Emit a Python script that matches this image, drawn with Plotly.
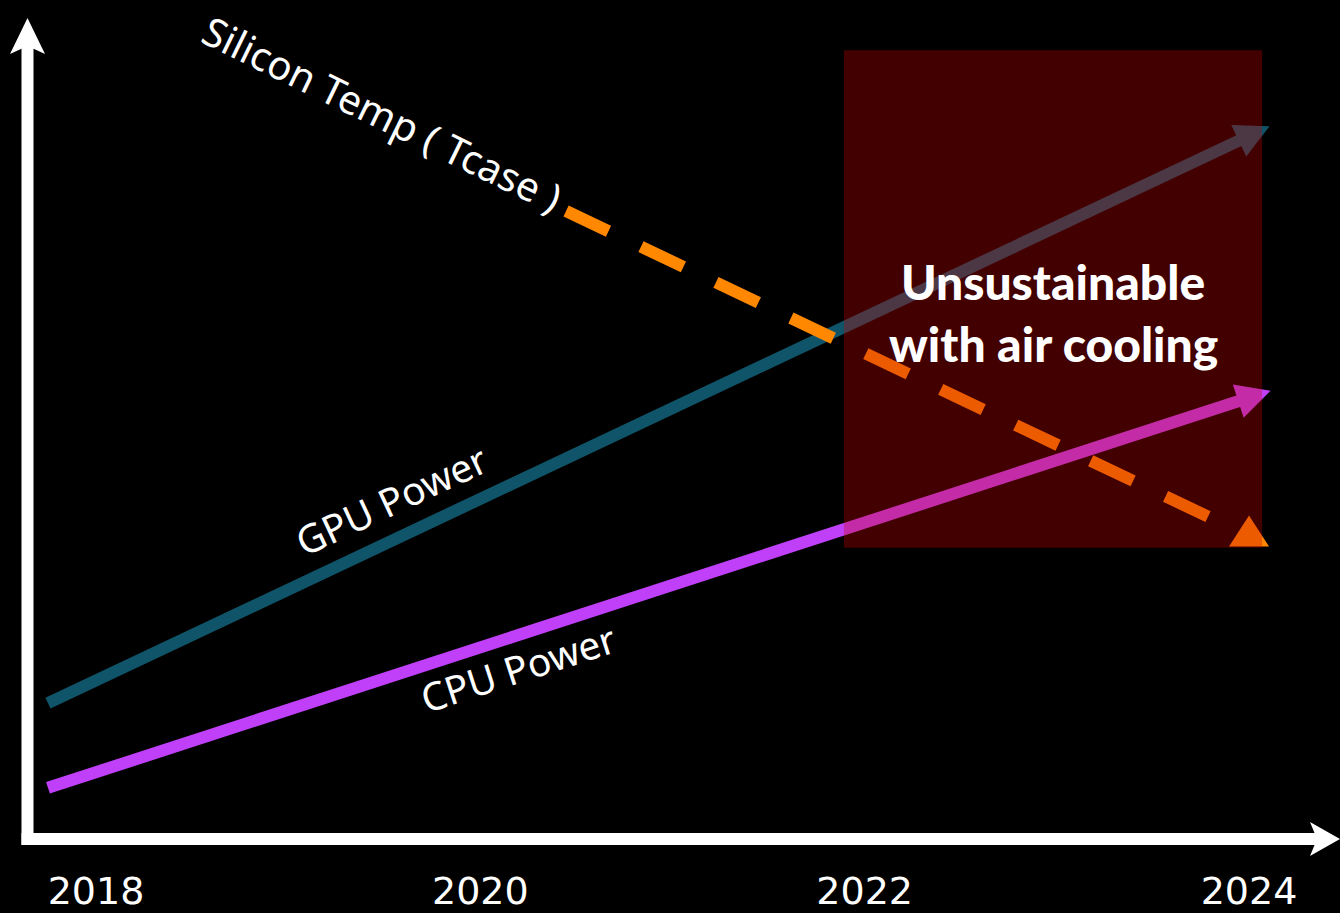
import plotly.graph_objects as go

# ---------------- data ----------------
years_label = [2018, 2020, 2022, 2024]
tick_text = ["2018", "2020", "2022", "2024"]

gpu_years = [2017.75, 2024.0]
gpu_power = [16.2, 83.8]

cpu_years = [2017.75, 2024.0]
cpu_power = [6.1, 52.6]

temp_years = [2020.446, 2024.0]
temp_level = [74.85, 36.1]

region_years = [2021.892, 2024.068]
region_level = [34.7, 94.0]

# ---------------- styling / geometry ----------------
W, H = 1340, 913
PLOT_H = 839
PXY = 192.17                       # px per year
X0 = 2018 - 96 / PXY
X1 = X0 + W / PXY
PYV = PLOT_H / 100.0               # px per unit

TEAL = "#0F5468"
PURPLE = "#C040FA"
ORANGE = "#FF8800"
FONT = "Noto Sans"
BOLD_FONT = "Lato"


def to_px(x, y):
    return (x - X0) * PXY, (100 - y) * PYV


def from_px(px, py):
    return X0 + px / PXY, 100 - py / PYV


def arrow_poly(xs, ys, length, width, direction=None):
    ex, ey = to_px(xs[-1], ys[-1])
    if direction is None:
        px_, py_ = to_px(xs[-2], ys[-2])
        dx, dy = ex - px_, ey - py_
    else:
        dx, dy = direction
    n = (dx * dx + dy * dy) ** 0.5
    ux, uy = dx / n, dy / n
    nx, ny = -uy, ux
    tip = (ex + ux * length * 2 / 3, ey + uy * length * 2 / 3)
    bx, by = ex - ux * length / 3, ey - uy * length / 3
    c1 = (bx + nx * width / 2, by + ny * width / 2)
    c2 = (bx - nx * width / 2, by - ny * width / 2)
    pts = [from_px(*p) for p in (tip, c1, c2, tip)]
    return [p[0] for p in pts], [p[1] for p in pts]


fig = go.Figure()

# lines
fig.add_trace(go.Scatter(x=gpu_years, y=gpu_power, mode="lines",
                         line=dict(color=TEAL, width=12), hoverinfo="skip"))
fig.add_trace(go.Scatter(x=cpu_years, y=cpu_power, mode="lines",
                         line=dict(color=PURPLE, width=12), hoverinfo="skip"))
fig.add_trace(go.Scatter(x=temp_years, y=temp_level, mode="lines",
                         line=dict(color=ORANGE, width=12, dash="47px,36px"),
                         hoverinfo="skip"))

# arrowheads
for xs, ys, col, d in [(gpu_years, gpu_power, TEAL, None),
                       (cpu_years, cpu_power, PURPLE, None),
                       (temp_years, temp_level, ORANGE, (0, -1))]:
    if d is None:
        ax, ay = arrow_poly(xs, ys, 34, 35)
    else:
        ax, ay = arrow_poly(xs, ys, 31, 40, direction=d)
    fig.add_trace(go.Scatter(x=ax, y=ay, mode="lines", fill="toself",
                             fillcolor=col, line=dict(width=0, color=col),
                             hoverinfo="skip"))

# red region (above traces)
fig.add_shape(type="rect", x0=region_years[0], x1=region_years[1],
              y0=region_level[0], y1=region_level[1],
              fillcolor="rgba(200,0,0,0.33)", line=dict(width=0), layer="above")


# axes drawn as shapes in paper coords
def pp(px, py):
    return px / W, (PLOT_H - py) / PLOT_H


def path(points):
    s = ""
    for i, (px, py) in enumerate(points):
        x, y = pp(px, py)
        s += ("M" if i == 0 else "L") + f"{x:.5f},{y:.5f} "
    return s + "Z"


vx, _ = pp(27.5, 0)
_, vy0 = pp(0, 845)
_, vy1 = pp(0, 45)
fig.add_shape(type="line", xref="paper", yref="paper", x0=vx, x1=vx, y0=vy0, y1=vy1,
              line=dict(color="white", width=12))
hx0, hy = pp(21.5, 839)
hx1, _ = pp(1318, 839)
fig.add_shape(type="line", xref="paper", yref="paper", x0=hx0, x1=hx1, y0=hy, y1=hy,
              line=dict(color="white", width=12))
fig.add_shape(type="path", xref="paper", yref="paper",
              path=path([(27.5, 18), (45, 54), (27.5, 46), (10, 54)]),
              fillcolor="white", line=dict(width=0))
fig.add_shape(type="path", xref="paper", yref="paper",
              path=path([(1340, 839), (1310, 856), (1317, 839), (1310, 822)]),
              fillcolor="white", line=dict(width=0))

# labels
fig.add_annotation(x=2019.49, y=86.5, text="Silicon Temp ( Tcase )", showarrow=False,
                   textangle=26, font=dict(family=FONT, size=40, color="white"),
                   xanchor="center", yanchor="middle")
fig.add_annotation(x=2019.535, y=40.5, text="GPU Power", showarrow=False,
                   textangle=-25, font=dict(family=FONT, size=39, color="white"),
                   xanchor="center", yanchor="middle")
fig.add_annotation(x=2020.195, y=20.4, text="CPU Power", showarrow=False,
                   textangle=-18, font=dict(family=FONT, size=39, color="white"),
                   xanchor="center", yanchor="middle")
fig.add_annotation(x=2022.98, y=66.4, text="Unsustainable", showarrow=False,
                   font=dict(family=BOLD_FONT, size=48, color="white", weight=900),
                   xanchor="center", yanchor="middle")
fig.add_annotation(x=2022.98, y=59.0, text="with air cooling", showarrow=False,
                   font=dict(family=BOLD_FONT, size=48, color="white", weight=900),
                   xanchor="center", yanchor="middle")

fig.update_xaxes(range=[X0, X1], tickvals=years_label, ticktext=tick_text,
                 showgrid=False, zeroline=False, showline=False, ticks="",
                 tickfont=dict(family="DejaVu Sans", size=38, color="white"),
                 ticklabelstandoff=26, fixedrange=True)
fig.update_yaxes(range=[0, 100], showgrid=False, zeroline=False, showline=False,
                 showticklabels=False, ticks="", fixedrange=True)

fig.update_layout(width=W, height=H, margin=dict(l=0, r=0, t=0, b=H - PLOT_H),
                  paper_bgcolor="black", plot_bgcolor="black", showlegend=False,
                  autosize=False)

fig.write_html(
    "out.html",
    config={"displayModeBar": False},
    post_script="document.body.style.margin='0';document.body.style.background='black';",
)
